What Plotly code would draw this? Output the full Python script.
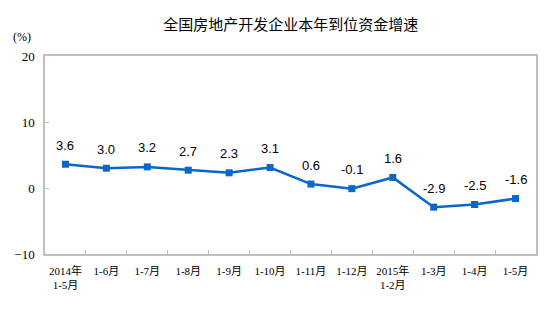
import plotly.graph_objects as go

# Cumulative period labels and year-on-year growth of funds in place (%)
periods = ["2014年<br>1-5月", "1-6月", "1-7月", "1-8月", "1-9月", "1-10月",
           "1-11月", "1-12月", "2015年<br>1-2月", "1-3月", "1-4月", "1-5月"]
growth = [3.6, 3.0, 3.2, 2.7, 2.3, 3.1, 0.6, -0.1, 1.6, -2.9, -2.5, -1.6]
y_ticks = [-10, 0, 10, 20]

LINE = "#0A66C8"
AXIS = "#BFBFBF"
CJK = "Liberation Serif, Noto Sans CJK SC, serif"

fig = go.Figure()
fig.add_trace(go.Scatter(
    x=periods, y=growth, mode="lines+markers",
    line=dict(color=LINE, width=2.5),
    marker=dict(symbol="square", size=7, color=LINE),
    hoverinfo="skip", showlegend=False,
))

# value labels above each point
for p, v in zip(periods, growth):
    fig.add_annotation(x=p, y=v, text=f"{v:.1f}", showarrow=False,
                       yshift=19, font=dict(family="Liberation Sans, Arial", size=13, color="#000"))

fig.add_annotation(xref="paper", yref="paper", x=-0.046, y=1.096, text="(%)",
                   xanchor="center", yanchor="middle", showarrow=False,
                   font=dict(family=CJK, size=12, color="#000"))

fig.update_layout(
    width=554, height=329,
    margin=dict(l=44.5, r=18, t=56, b=75),
    paper_bgcolor="white", plot_bgcolor="white",
    title=dict(text="全国房地产开发企业本年到位资金增速", xref="container", yref="container",
               x=0.525, y=0.924, xanchor="center", yanchor="middle",
               font=dict(family="Noto Sans CJK SC", size=15, color="#000")),
    xaxis=dict(type="category", range=[-0.5, 11.5], showline=True, linecolor=AXIS,
               linewidth=1.5, mirror=True, ticks="inside", tickson="boundaries",
               ticklen=4, tickcolor=AXIS, showgrid=False, zeroline=False,
               tickangle=0, ticklabelstandoff=6,
               tickfont=dict(family=CJK, size=11, color="#000")),
    yaxis=dict(range=[-10, 20], tickvals=y_ticks, showline=True, linecolor=AXIS,
               linewidth=1.5, mirror=True, ticks="inside", ticklen=4, tickcolor=AXIS,
               showgrid=False, zeroline=False, ticklabelstandoff=6,
               tickfont=dict(family="Liberation Serif, serif", size=13, color="#000")),
)

fig.write_html("out.html")
